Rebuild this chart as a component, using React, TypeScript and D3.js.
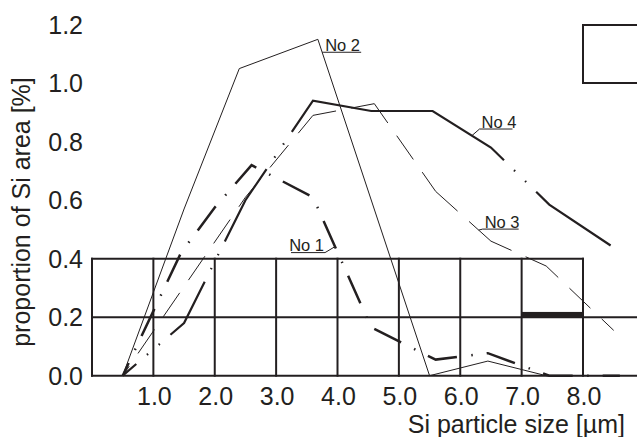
import React from 'react';
import * as d3 from 'd3';

const W = 637;
const H = 437;
const FONT = '"Liberation Sans", Arial, Helvetica, sans-serif';
const INK = '#231f20';

// particle size [µm] and proportion of Si area [%]
const no1Size = [0.5, 1.45, 2.0, 2.6, 3.6, 4.55, 5.45, 5.6, 6.45, 7.45, 8.6];
const no1Prop = [0, 0.42, 0.575, 0.72, 0.61, 0.165, 0.07, 0.055, 0.077, 0, 0];
const no2Size = [0.5, 1.5, 2.4, 3.68, 5.5, 6.45, 7.4, 8.6];
const no2Prop = [0, 0.57, 1.05, 1.15, 0, 0.05, 0, 0];
const no3Size = [0.5, 2.5, 3.6, 4.6, 5.6, 6.5, 7.4, 8.5];
const no3Prop = [0, 0.61, 0.89, 0.93, 0.63, 0.46, 0.375, 0.155];
const no4Size = [0.5, 1.5, 2.5, 3.6, 4.55, 5.55, 6.5, 7.45, 8.45];
const no4Prop = [0, 0.18, 0.6, 0.94, 0.905, 0.905, 0.78, 0.585, 0.445];

const seriesNames = ['No 1', 'No 2', 'No 3', 'No 4'];
// x value on each curve where the label's leader line starts
const labelAt = [3.96, 3.75, 6.3, 6.19];

const xTicks = [1, 2, 3, 4, 5, 6, 7, 8];
const yTicks = [0, 0.2, 0.4, 0.6, 0.8, 1.0, 1.2];
const gridCols = [0, 1, 2, 3, 4, 5, 6, 7, 8];
const gridRows = [0, 0.2, 0.4];
const markedCell = [7, 8];
const markedTop = 0.218;

type Pt = [number, number];

// AutoCAD-like dashes: every segment begins and ends with a (partial) dash
const fitDashes = (lens: number[], dash: number, group: number[], minEnd: number) => {
  const g = d3.sum(group);
  const out: number[] = [];
  lens.forEach((len) => {
    const n = Math.max(0, Math.floor((len - g - dash / 2) / (dash + g)));
    const p = (len - n * dash - (n + 1) * g) / 2;
    let seg: number[];
    if (p < minEnd) {
      seg = [len];
    } else {
      seg = [p];
      for (let i = 0; i < n; i++) seg.push(...group, dash);
      seg.push(...group, p);
    }
    if (out.length) {
      out[out.length - 1] += seg[0];
      out.push(...seg.slice(1));
    } else {
      out.push(...seg);
    }
  });
  out.push(3000);
  return out.map((v) => v.toFixed(2)).join(' ');
};

const interp = (xs: number[], ys: number[], v: number) => {
  const i = Math.max(1, d3.bisectLeft(xs, v));
  const t = (v - xs[i - 1]) / (xs[i] - xs[i - 1]);
  return ys[i - 1] + t * (ys[i] - ys[i - 1]);
};

export default function App() {
  const x = d3.scaleLinear().domain([0, 8]).range([92, 583]);
  const y = d3.scaleLinear().domain([0, 1.2]).range([375.7, 24.7]);
  const line = d3.line<Pt>();

  const toPts = (xs: number[], ys: number[]): Pt[] => xs.map((v, i) => [x(v), y(ys[i])]);
  const segLens = (pts: Pt[]) =>
    d3.pairs(pts).map(([a, b]) => Math.hypot(b[0] - a[0], b[1] - a[1]));

  const p1 = toPts(no1Size, no1Prop);
  const p2 = toPts(no2Size, no2Prop);
  const p3 = toPts(no3Size, no3Prop);
  const p4 = toPts(no4Size, no4Prop);

  const curves = [
    { pts: p1, width: 2.5, dash: '30 14.5 1.5 14', offset: 16 },
    { pts: p2, width: 1, dash: 'none', offset: 0 },
    { pts: p3, width: 1, dash: fitDashes(segLens(p3), 29, [15.5], 6), offset: 0 },
    { pts: p4, width: 2.2, dash: fitDashes(segLens(p4), 85, [14, 1.5, 14, 1.5, 14], 16), offset: 0 },
  ];

  const xsList = [no1Size, no2Size, no3Size, no4Size];
  const ysList = [no1Prop, no2Prop, no3Prop, no4Prop];
  // leader end offset, underline direction / length
  const labelLayout = [
    { dx: -10, dy: 6, dir: -1, len: 34 },
    { dx: 1, dy: 0, dir: 1, len: 38 },
    { dx: 4, dy: -1, dir: 1, len: 36 },
    { dx: 7.6, dy: -6.6, dir: 1, len: 33 },
  ];

  return (
    <svg
      width={W}
      height={H}
      style={{ position: 'absolute', left: 0, top: 0, background: '#fff' }}
      fontFamily={FONT}
    >
      <rect width={W} height={H} fill="#fff" />

      {/* table grid in the lower part */}
      <g stroke={INK} strokeWidth={2} fill="none">
        {gridCols.map((c) => (
          <line key={c} x1={x(c)} x2={x(c)} y1={y(0) + 1} y2={y(0.4) - 1} />
        ))}
        {gridRows.map((r) => (
          <line key={r} x1={x(0) - 1} x2={r === 0.4 ? x(8) + 1 : W} y1={y(r)} y2={y(r)} />
        ))}
      </g>
      <rect
        x={x(markedCell[0])}
        width={x(markedCell[1]) - x(markedCell[0])}
        y={y(markedTop)}
        height={y(0.2) - y(markedTop)}
        fill={INK}
      />

      {/* curves */}
      <g fill="none" stroke={INK} strokeLinejoin="miter">
        {curves.map((c, i) => (
          <path
            key={i}
            d={line(c.pts) ?? ''}
            strokeWidth={c.width}
            strokeDasharray={c.dash}
            strokeDashoffset={c.offset}
          />
        ))}
      </g>

      {/* curve labels */}
      <g fill={INK} stroke={INK} fontSize={16.5}>
        {seriesNames.map((name, i) => {
          const ax = x(labelAt[i]);
          const ay = y(interp(xsList[i], ysList[i], labelAt[i]));
          const l = labelLayout[i];
          const ux = ax + l.dx;
          const uy = ay + l.dy;
          const ux2 = ux + l.dir * l.len;
          return (
            <g key={name}>
              <polyline
                points={`${ax},${ay} ${ux},${uy} ${ux2},${uy}`}
                fill="none"
                strokeWidth={1}
              />
              <text
                x={l.dir > 0 ? ux + 2 : ux - 1}
                y={uy - 1.5}
                textAnchor={l.dir > 0 ? 'start' : 'end'}
                stroke="none"
              >
                {name}
              </text>
            </g>
          );
        })}
      </g>

      {/* legend frame, cut by the right edge */}
      <rect x={583} y={25} width={100} height={58} fill="none" stroke={INK} strokeWidth={2} />

      {/* axes text */}
      <g fill={INK} fontSize={25}>
        {yTicks.map((t) => (
          <text key={t} x={83} y={y(t) + 9} textAnchor="end">
            {t.toFixed(1)}
          </text>
        ))}
        {xTicks.map((t) => (
          <text key={t} x={x(t) + 1} y={405} textAnchor="middle">
            {t.toFixed(1)}
          </text>
        ))}
        <text x={625} y={433} textAnchor="end">
          Si particle size [µm]
        </text>
        <text transform="translate(30,212) rotate(-90)" textAnchor="middle">
          proportion of Si area [%]
        </text>
      </g>
    </svg>
  );
}
